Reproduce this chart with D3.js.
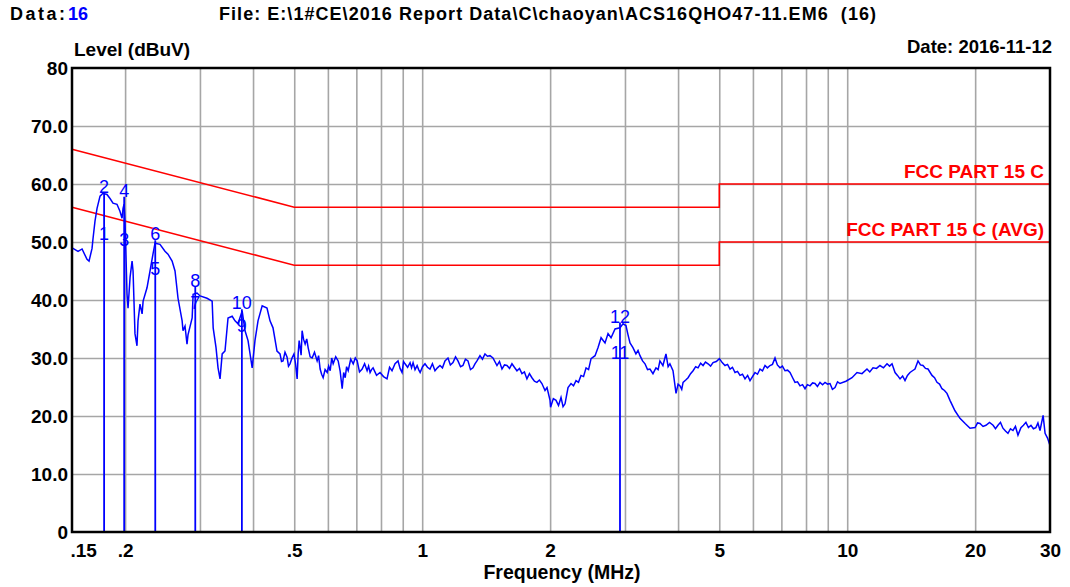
<!DOCTYPE html>
<html>
<head>
<meta charset="utf-8">
<script src="https://d3js.org/d3.v7.min.js"></script>
<style>
	body {
		margin: 0;
		background: #fff;
		font-family: "Liberation Sans", Arial, sans-serif;
	}
	.grid line {
		stroke: #a6a6a6;
		stroke-width: 1.6;
	}
	.tick-label text {
		font-size: 19px;
		font-weight: bold;
		fill: #000;
	}
	.bold {
		font-weight: bold;
	}
</style>
</head>
<body>
<script>

	// scan (MHz / dBuV)
	var traceFreq = [0.150, 0.1508, 0.155, 0.1584, 0.1627, 0.1645, 0.1672, 0.1681, 0.1699, 0.1718,
		0.1746, 0.1774, 0.1813, 0.1843, 0.1873, 0.1914, 0.1945, 0.1967, 0.1978, 0.1989,
		0.1999, 0.2021, 0.2032, 0.2055, 0.2077, 0.2088, 0.2110, 0.2133, 0.2145, 0.2168,
		0.2193, 0.2205, 0.2252, 0.2289, 0.2326, 0.2352, 0.2416, 0.2482, 0.2523, 0.2580,
		0.2621, 0.2664, 0.2724, 0.2737, 0.2767, 0.2797, 0.2812, 0.2876, 0.2891, 0.2953,
		0.3002, 0.3117, 0.3205, 0.3223, 0.3273, 0.3309, 0.3345, 0.3384, 0.3436, 0.3493,
		0.3572, 0.3628, 0.3687, 0.3771, 0.3830, 0.3893, 0.3981, 0.4042, 0.4109, 0.4203,
		0.4314, 0.4385, 0.4457, 0.4554,
		0.4629, 0.4667, 0.4705, 0.4756, 0.4808, 0.4847, 0.4886, 0.494, 0.4993, 0.5036,
		0.5079, 0.5107, 0.5135, 0.5162, 0.519, 0.5218, 0.526, 0.5304, 0.535, 0.5391,
		0.545, 0.5509, 0.558, 0.566, 0.5705, 0.5753, 0.58, 0.5848, 0.591, 0.5977,
		0.6025, 0.6075, 0.6125, 0.6174, 0.626, 0.6344, 0.641, 0.6483, 0.6535, 0.659,
		0.664, 0.6698, 0.679, 0.6883, 0.696, 0.7032, 0.712, 0.7223, 0.732, 0.742,
		0.748, 0.7541, 0.76, 0.7664, 0.781, 0.7959, 0.811, 0.8265, 0.838, 0.8493,
		0.8632, 0.8774, 0.887, 0.8967, 0.904, 0.9114, 0.924, 0.9365, 0.944, 0.9519,
		0.962, 0.9729, 0.981, 0.989, 1.002, 1.0153, 1.029, 1.0432, 1.057, 1.0718,
		1.086, 1.1012, 1.116, 1.1314, 1.150, 1.165, 1.1815, 1.198, 1.2139, 1.231,
		1.2472, 1.264, 1.2815, 1.299, 1.3166, 1.331, 1.3456, 1.3677, 1.386, 1.4052,
		1.424, 1.4437, 1.4674, 1.4996, 1.52, 1.5408, 1.562, 1.583, 1.605, 1.6264,
		1.648, 1.671, 1.694, 1.7168, 1.74, 1.7638, 1.788, 1.8122, 1.837, 1.8618,
		1.887, 1.9128, 1.9454, 1.9665, 1.999, 2.005, 2.035, 2.065, 2.093, 2.1216,
		2.145, 2.168, 2.2036, 2.2396, 2.27, 2.3012, 2.332, 2.3642, 2.397, 2.4298,
		2.463, 2.4964, 2.551, 2.593, 2.6358, 2.6926, 2.737, 2.782, 2.843, 2.92,
		2.9678, 3.0162, 3.05, 3.083, 3.1326, 3.1834, 3.22, 3.2544, 3.30, 3.3436,
		3.39, 3.4352, 3.4914, 3.5482, 3.59, 3.6256, 3.6846, 3.746, 3.79, 3.827,
		3.8916, 3.9558, 4.0, 4.0436, 4.08, 4.11, 4.17, 4.2226, 4.28, 4.3386,
		4.40, 4.4576, 4.52, 4.58, 4.64, 4.7054, 4.77, 4.8346, 4.92, 5.004,
		5.08, 5.158, 5.23, 5.3, 5.37, 5.4455, 5.52, 5.5945, 5.67, 5.7485,
		5.83, 5.906, 6.0685, 6.15, 6.235, 6.32, 6.4065, 6.49, 6.582, 6.67,
		6.763, 6.85, 6.949, 7.04, 7.1395, 7.24, 7.3355, 7.44, 7.537, 7.64,
		7.744, 7.85, 7.9565, 8.06, 8.175, 8.29, 8.3995, 8.51, 8.63, 8.75,
		8.867, 8.99, 9.1105, 9.23, 9.3605, 9.49, 9.6175, 9.93, 10.263, 10.545,
		10.834, 11.131, 11.30, 11.50, 11.72, 11.942, 12.17, 12.407, 12.58, 12.748,
		12.958, 13.13, 13.314, 13.50, 13.677, 13.86, 14.052, 14.24, 14.437, 14.674,
		14.87, 15.077, 15.28, 15.491, 15.83, 16.05, 16.264, 16.49, 16.71, 16.94,
		17.168, 17.45, 17.929, 18.42, 18.942, 19.454, 19.99, 20.26, 20.53, 20.87,
		21.207, 21.62, 22.04, 22.33, 22.63, 22.94, 23.25, 23.57, 23.89, 24.22,
		24.55, 24.88, 25.22, 25.63, 25.98, 26.33, 26.69, 27.06, 27.42, 27.79,
		28.1, 28.42, 28.9, 29.21, 29.6, 30.0];
	var traceLevel = [49.0, 48.9, 48.4, 48.8, 47.0, 46.7, 48.9, 50.6, 53.6, 55.8,
		57.9, 58.4, 58.2, 57.5, 56.7, 56.5, 55.3, 54.1, 55.8, 56.5,
		53.6, 41.0, 38.6, 44.0, 46.7, 45.0, 34.2, 32.1, 36.4, 39.3,
		37.6, 39.8, 42.1, 45.0, 47.9, 49.8, 49.6, 48.4, 47.9, 46.7,
		45.0, 40.3, 36.4, 34.7, 35.5, 32.4, 34.0, 36.9, 41.0, 41.2,
		40.7, 40.3, 39.8, 35.2, 31.8, 28.3, 26.4, 30.7, 31.2, 36.9,
		37.2, 36.4, 35.9, 38.1, 34.7, 33.0, 28.3, 33.0, 36.4, 39.0,
		38.6, 36.4, 35.2, 31.2,
		30.7, 29.4, 29.5, 31.0, 30.2, 28.6, 29.0, 30.0, 30.7, 29.0,
		26.4, 30.7, 33.0, 31.8, 30.5, 34.7, 33.2, 32.4, 33.3, 31.8,
		30.2, 30.0, 31.0, 29.5, 30.4, 28.1, 27.2, 26.6, 28.0, 27.5,
		28.6, 27.8, 30.0, 29.0, 30.2, 29.5, 27.8, 24.7, 27.5, 26.6,
		28.5, 27.8, 29.8, 29.0, 30.0, 29.5, 27.6, 28.1, 29.0, 27.8,
		28.6, 27.5, 28.0, 28.3, 27.0, 27.5, 26.8, 26.4, 28.4, 27.8,
		29.0, 29.5, 28.2, 27.5, 29.4, 29.0, 28.4, 29.2, 28.3, 29.2,
		28.0, 28.7, 28.0, 27.5, 28.5, 29.0, 28.4, 28.1, 29.0, 27.8,
		28.3, 28.7, 28.3, 29.5, 30.0, 28.8, 29.2, 30.2, 29.5, 28.5,
		28.7, 29.8, 29.5, 28.0, 28.3, 29.0, 29.5, 30.4, 29.8, 30.7,
		30.3, 30.4, 30.0, 28.7, 29.4, 28.1, 28.8, 28.7, 28.2, 29.0,
		28.4, 27.8, 28.2, 27.3, 27.6, 26.4, 27.3, 26.6, 26.0, 25.8,
		26.2, 25.6, 24.4, 24.9, 22.7, 21.5, 23.0, 22.7, 21.8, 23.2,
		21.6, 22.1, 24.9, 25.6, 25.2, 26.1, 25.8, 27.0, 26.8, 28.3,
		28.0, 29.9, 30.4, 31.8, 33.5, 32.6, 34.2, 33.5, 35.0, 35.2,
		35.9, 35.6, 34.0, 32.6, 31.8, 30.7, 31.3, 30.4, 29.5, 29.0,
		28.0, 28.1, 27.3, 28.3, 28.0, 29.5, 28.7, 30.7, 28.5, 29.0,
		27.8, 23.9, 25.5, 25.2, 24.6, 25.8, 26.2, 26.6, 27.3, 27.8,
		28.5, 28.3, 29.1, 28.7, 29.3, 29.0, 28.6, 29.2, 29.4, 29.9,
		29.2, 28.7, 28.9, 28.1, 28.4, 27.5, 27.7, 27.0, 27.2, 26.4,
		27.0, 26.1, 27.5, 27.2, 28.1, 27.8, 28.7, 28.3, 28.7, 28.9,
		30.0, 28.8, 28.3, 28.6, 27.8, 27.9, 27.5, 26.6, 25.8, 25.9,
		25.2, 25.4, 24.7, 25.4, 25.2, 25.7, 25.6, 25.1, 25.8, 25.4,
		25.8, 25.5, 25.6, 24.6, 24.9, 25.9, 25.6, 26.0, 26.6, 27.5,
		27.3, 28.1, 27.6, 28.3, 28.2, 28.7, 28.3, 29.0, 28.6, 29.0,
		27.5, 27.0, 26.4, 26.9, 26.1, 27.0, 27.5, 27.8, 28.1, 29.5,
		28.8, 28.7, 28.2, 28.1, 27.0, 26.6, 25.8, 25.5, 24.7, 24.4,
		23.9, 22.7, 20.9, 19.6, 18.7, 17.9, 18.0, 18.8, 18.7, 18.2,
		18.4, 18.9, 18.4, 17.8, 18.4, 18.9, 17.9, 17.4, 17.0, 17.8,
		17.5, 18.2, 16.7, 18.0, 18.4, 18.9, 18.0, 18.4, 17.8, 18.0,
		18.8, 17.5, 20.1, 17.0, 16.2, 14.9];

	// limit lines
	var limitFreq = [0.15, 0.5, 5, 5, 30];
	var qpLimit = [66, 56, 56, 60, 60];
	var avgLimit = [56, 46, 46, 50, 50];
	var limitNames = ["FCC PART 15 C", "FCC PART 15 C (AVG)"];

	// marker table
	var markerNames = ["1", "2", "3", "4", "5", "6", "7", "8", "9", "10", "11", "12"];
	var markerFreq = [0.1785, 0.1785, 0.199, 0.199, 0.2355, 0.2355, 0.2925, 0.2925, 0.3765, 0.3765, 2.92, 2.92];
	var markerLevel = [50.4, 58.5, 49.3, 57.8, 44.3, 50.3, 38.5, 42.3, 34.4, 38.4, 29.9, 36.1];

	var gridFreq = [0.2, 0.3, 0.4, 0.5, 0.6, 0.7, 0.8, 0.9, 1, 2, 3, 4, 5, 6, 7, 8, 9, 10, 20];
	var xTicks = [0.15, 0.2, 0.5, 1, 2, 5, 10, 20, 30];
	var xTickLabels = [".15", ".2", ".5", "1", "2", "5", "10", "20", "30"];
	var yTicks = [0, 10, 20, 30, 40, 50, 60, 70, 80];
	var yTickLabels = ["0", "10.0", "20.0", "30.0", "40.0", "50.0", "60.0", "70.0", "80"];

	var pL = 72, pR = 1050, pT = 68, pB = 532;

	var svg = d3.select("body").append("svg")
		.attr("width", 1070)
		.attr("height", 587);

	var x = d3.scaleLog().domain([0.15, 30]).range([pL, pR]);
	var y = d3.scaleLinear().domain([0, 80]).range([pB, pT]);

	// grid
	svg.append("g")
		.attr("class", "grid")
		.attr("transform", "translate(0," + pB + ")")
		.call(d3.axisBottom(x).tickValues(gridFreq).tickSize(-(pB - pT)).tickFormat(""))
		.call(function(g) { g.select(".domain").remove(); });
	svg.append("g")
		.attr("class", "grid")
		.attr("transform", "translate(" + pL + ",0)")
		.call(d3.axisLeft(y).tickValues([10, 20, 30, 40, 50, 60, 70]).tickSize(-(pR - pL)).tickFormat(""))
		.call(function(g) { g.select(".domain").remove(); });

	// limits
	var line = d3.line()
		.x(function(d) { return x(d[0]); })
		.y(function(d) { return y(d[1]); });
	[qpLimit, avgLimit].forEach(function(lim, k) {
		svg.append("path")
			.attr("d", line(limitFreq.map(function(f, i) { return [f, lim[i]]; })))
			.attr("fill", "none")
			.attr("stroke", "#ff0000")
			.attr("stroke-width", 1.6);
		svg.append("text")
			.attr("x", pR - 6)
			.attr("y", y(lim[lim.length - 1]) - 6)
			.attr("text-anchor", "end")
			.attr("class", "bold")
			.style("font-size", "19px")
			.attr("fill", "#ff0000")
			.text(limitNames[k]);
	});

	// marker lines
	svg.selectAll(".mline")
		.data(markerFreq.filter(function(d, i) { return i % 2 == 1; }))
		.enter().append("line")
		.attr("class", "mline")
		.attr("x1", function(d) { return x(d); })
		.attr("x2", function(d) { return x(d); })
		.attr("y1", y(0))
		.attr("y2", function(d, i) { return y(markerLevel[i * 2 + 1]); })
		.attr("stroke", "#0000ff")
		.attr("stroke-width", 1.8);

	// trace
	svg.append("path")
		.attr("d", line(traceFreq.map(function(f, i) { return [f, traceLevel[i]]; })))
		.attr("fill", "none")
		.attr("stroke", "#0000ff")
		.attr("stroke-width", 1.5);

	svg.selectAll(".mlabel")
		.data(markerNames)
		.enter().append("text")
		.attr("class", "mlabel")
		.attr("x", function(d, i) { return x(markerFreq[i]); })
		.attr("y", function(d, i) { return y(markerLevel[i]); })
		.attr("text-anchor", "middle")
		.style("font-size", "18px")
		.attr("fill", "#0000ff")
		.text(function(d) { return d; });

	// frame
	svg.append("rect")
		.attr("x", pL)
		.attr("y", pT)
		.attr("width", pR - pL)
		.attr("height", pB - pT)
		.attr("fill", "none")
		.attr("stroke", "#000")
		.attr("stroke-width", 2.5);

	// tick labels
	svg.append("g")
		.attr("class", "tick-label")
		.attr("transform", "translate(" + pL + ",0)")
		.call(d3.axisLeft(y).tickValues(yTicks).tickSize(0).tickPadding(4)
			.tickFormat(function(d, i) { return yTickLabels[i]; }))
		.call(function(g) { g.select(".domain").remove(); });
	var xl = svg.append("g")
		.attr("class", "tick-label")
		.attr("transform", "translate(0," + pB + ")")
		.call(d3.axisBottom(x).tickValues(xTicks).tickSize(0).tickPadding(12)
			.tickFormat(function(d, i) { return xTickLabels[i]; }))
		.call(function(g) { g.select(".domain").remove(); });
	xl.select(".tick text").attr("text-anchor", "start").attr("x", -2);
	svg.selectAll(".tick-label").attr("font-family", null).attr("font-size", null);

	// titles
	svg.append("text")
		.attr("x", 562).attr("y", 579)
		.attr("text-anchor", "middle")
		.attr("class", "bold").style("font-size", "19.5px")
		.text("Frequency (MHz)");
	svg.append("text")
		.attr("x", 74).attr("y", 56)
		.attr("class", "bold").style("font-size", "19px")
		.text("Level (dBuV)");
	svg.append("text")
		.attr("x", 1052).attr("y", 53)
		.attr("text-anchor", "end")
		.attr("class", "bold").style("font-size", "18.5px")
		.text("Date: 2016-11-12");

	svg.append("text")
		.attr("x", 10).attr("y", 20)
		.attr("class", "bold").style("font-size", "18px")
		.attr("textLength", 55).attr("lengthAdjust", "spacing")
		.text("Data:");
	svg.append("text")
		.attr("x", 68).attr("y", 20)
		.attr("class", "bold").style("font-size", "18px")
		.attr("fill", "#0000ff")
		.text("16");
	svg.append("text")
		.attr("x", 219).attr("y", 20)
		.attr("class", "bold").style("font-size", "18px")
		.style("white-space", "pre")
		.attr("textLength", 657).attr("lengthAdjust", "spacing")
		.text("File: E:\\1#CE\\2016 Report Data\\C\\chaoyan\\ACS16QHO47-11.EM6  (16)");

</script>
</body>
</html>
